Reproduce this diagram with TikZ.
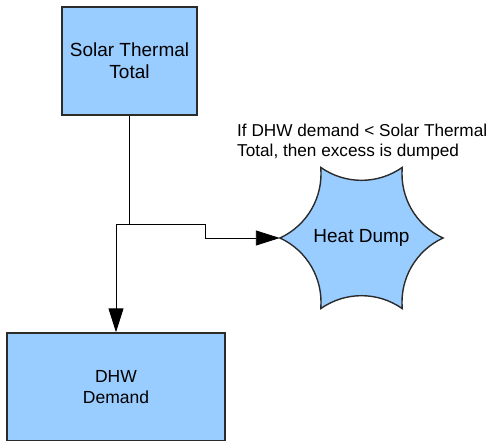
\documentclass[tikz,border=0pt]{standalone}
\usepackage{fontspec}
\setmainfont{Liberation Sans}
\usetikzlibrary{arrows.meta}

\definecolor{boxblue}{HTML}{99CCFF}
\definecolor{edgegray}{HTML}{2B2B2B}

\tikzset{
  block/.style={draw=edgegray, fill=boxblue, line width=1.4pt, align=center,
    font=\fontsize{17.5}{21}\selectfont, inner sep=0pt},
  bigtext/.style={font=\fontsize{19}{22}\selectfont},
  flow/.style={draw=black, line width=0.9pt},
  bigtip/.style={-{Triangle[length=24pt, width=15pt]}},
  note/.style={align=left, font=\fontsize{17.2}{20.5}\selectfont, inner sep=0pt}
}

\begin{document}
\begin{tikzpicture}[x=1pt, y=-1pt]
        % Page frame
        \useasboundingbox (0, 0) rectangle (488, 440);

        % Solar thermal
        \node[block, bigtext, minimum width=135pt, minimum height=108pt] (solar) at (129.5, 61) {Solar Thermal\\Total};

        % DHW demand
        \node[block, minimum width=218pt, minimum height=108pt] (dhw) at (116, 387) {DHW\\Demand};

        % Heat dump
        \begin{scope}[shift={(361.5, 238)}]
            \draw[draw=edgegray, fill=boxblue, line width=1.4pt, line join=miter]
                (0:81.5) \foreach \a in {0, 60, ..., 300} { .. controls +(\a+155:30) and +(\a+265:30) .. (\a+60:81.5) } -- cycle;
        \end{scope}
        \node[circle, bigtext, minimum size=163pt, inner sep=0pt] (dump) at (361.5, 238) {Heat Dump};

        % Note
        \node[note, anchor=west] (note) at (237, 142) {If DHW demand < Solar Thermal\\Total, then excess is dumped};

        % Connectors
        \coordinate (split) at (129.5, 224);
        \coordinate (jog) at (205, 224);
        \draw[flow] (solar.south) -- (split);
        \draw[flow, bigtip] (split) -- (dhw.north |- split) -- (dhw.north);
        \draw[flow, bigtip] (split) -- (jog) |- (dump.west);
    \end{tikzpicture}
\end{document}
